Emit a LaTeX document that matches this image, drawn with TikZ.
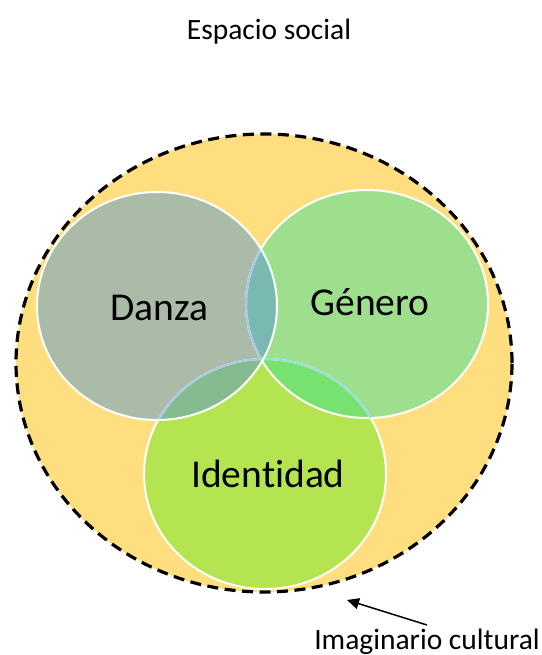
\documentclass[tikz,border=0pt]{standalone}
\usepackage{fontspec}
\setmainfont[Ligatures={NoCommon, NoRequired, NoContextual}]{Carlito}
\usetikzlibrary{positioning, arrows.meta}
\definecolor{SpaceFill}{RGB}{255, 222, 128}
\definecolor{DanzaFill}{RGB}{170, 188, 168}
\definecolor{GeneroFill}{RGB}{157, 223, 140}
\definecolor{IdentFill}{RGB}{180, 228, 80}
\definecolor{DanzaGenero}{RGB}{122, 185, 176}
\definecolor{DanzaIdent}{RGB}{132, 188, 143}
\definecolor{GeneroIdent}{RGB}{120, 226, 112}
\definecolor{EdgeBlue}{RGB}{170, 200, 235}
\definecolor{EdgeCyan}{RGB}{150, 225, 215}
\tikzset{
    set label/.style={
        font=\fontsize{39.5}{47}\selectfont,
        anchor=base,
        inner sep=0pt
    },
    side label/.style={
        font=\fontsize{29.5}{35}\selectfont,
        anchor=base
    },
    set border/.style={draw=white, line width=2pt},
    danza shape/.style={insert path={(cDanza) ellipse [x radius=120pt, y radius=114pt]}},
    genero shape/.style={insert path={(cGenero) ellipse [x radius=121pt, y radius=114pt]}},
    ident shape/.style={insert path={(cIdent) ellipse [x radius=121pt, y radius=115pt]}}
}

\begin{document}
\begin{tikzpicture}[x=1pt, y=-1pt]
    \useasboundingbox (0,0) rectangle (541,655);

    % ============================================================================
    % SOCIAL SPACE
    % ============================================================================

    \coordinate (cSpace) at (264,363);
    \coordinate (cDanza) at (157,306);
    \coordinate (cGenero) at (367,304);
    \coordinate (cIdent) at (265,474);

    \node[side label] (Title) at (269,40) {Espacio social};

    % Dashed outer ellipse
    \fill[SpaceFill] (cSpace) ellipse [x radius=248pt, y radius=229pt];
    \draw[line width=3.2pt, dash pattern=on 11pt off 6.5pt] (cSpace) ellipse [x radius=248pt, y radius=229pt];

    % ============================================================================
    % SETS
    % ============================================================================

    \fill[IdentFill, ident shape];
    \fill[GeneroFill, genero shape];
    \fill[DanzaFill, danza shape];

    % Overlaps
    \begin{scope}
        \clip[danza shape];
        \fill[DanzaGenero, genero shape];
        \fill[DanzaIdent, ident shape];
    \end{scope}
    \begin{scope}
        \clip[genero shape];
        \fill[GeneroIdent, ident shape];
    \end{scope}

    % Borders (white outside, tinted where they run under another set)
    \path[set border, ident shape];
    \path[set border, genero shape];
    \begin{scope}
        \clip[danza shape];
        \draw[EdgeBlue, line width=2pt, genero shape];
        \draw[EdgeBlue, line width=2pt, ident shape];
    \end{scope}
    \begin{scope}
        \clip[genero shape];
        \draw[EdgeCyan, line width=2pt, ident shape];
    \end{scope}
    \path[set border, danza shape];

    % Labels
    \node[set label] (Danza) at (159,320) {Danza};
    \node[set label] (Genero) at (370,315) {Género};
    \node[set label] (Identidad) at (268,487) {Identidad};

    % ============================================================================
    % CULTURAL IMAGINARY
    % ============================================================================

    \coordinate (ArrowTip) at (347,600);
    \node[side label] (Imaginario) at (427,649) {Imaginario cultural};
    \draw[line width=1.5pt, -{Triangle[length=12pt, width=11pt]}] (Imaginario.north) -- (ArrowTip);

\end{tikzpicture}
\end{document}
